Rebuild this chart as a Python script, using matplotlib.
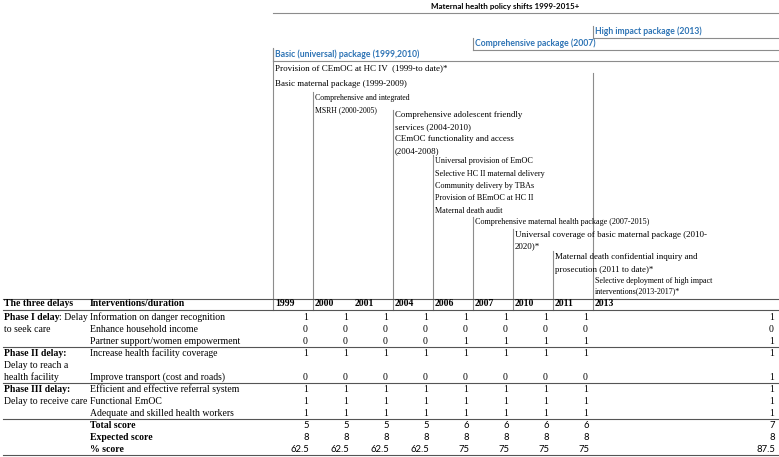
import matplotlib.pyplot as plt

# ---- data ----
years = ["1999", "2000", "2001", "2004", "2006", "2007", "2010", "2011", "2013"]

delay_labels = [
    [("Phase I delay", True), (": Delay", False)],
    [("to seek care", False)],
    [],
    [("Phase II delay:", True)],
    [("Delay to reach a", False)],
    [("health facility", False)],
    [("Phase III delay:", True)],
    [("Delay to receive care", False)],
    [],
]

interventions = [
    "Information on danger recognition",
    "Enhance household income",
    "Partner support/women empowerment",
    "Increase health facility coverage",
    "",
    "Improve transport (cost and roads)",
    "Efficient and effective referral system",
    "Functional EmOC",
    "Adequate and skilled health workers",
]

danger_recognition = [1, 1, 1, 1, 1, 1, 1, 1, 1]
household_income = [0, 0, 0, 0, 0, 0, 0, 0, 0]
partner_support = [0, 0, 0, 0, 1, 1, 1, 1, 1]
facility_coverage = [1, 1, 1, 1, 1, 1, 1, 1, 1]
transport = [0, 0, 0, 0, 0, 0, 0, 0, 1]
referral_system = [1, 1, 1, 1, 1, 1, 1, 1, 1]
functional_emoc = [1, 1, 1, 1, 1, 1, 1, 1, 1]
skilled_workers = [1, 1, 1, 1, 1, 1, 1, 1, 1]

score_rows = [danger_recognition, household_income, partner_support,
              facility_coverage, None, transport,
              referral_system, functional_emoc, skilled_workers]

total_score = [5, 5, 5, 5, 6, 6, 6, 6, 7]
expected_score = [8, 8, 8, 8, 8, 8, 8, 8, 8]
pct_score = ["62.5", "62.5", "62.5", "62.5", "75", "75", "75", "75", "87.5"]

title = "Maternal health policy shifts 1999-2015+"
packages = [("1999", "Basic (universal) package (1999,2010)"),
            ("2007", "Comprehensive package (2007)"),
            ("2013", "High impact package (2013)")]

policies = [
    ("1999", ["Provision of CEmOC at HC IV  (1999-to date)*",
              "Basic maternal package (1999-2009)"]),
    ("2000", ["Comprehensive and integrated", "MSRH (2000-2005)"]),
    ("2004", ["Comprehensive adolescent friendly", "services (2004-2010)",
              "CEmOC functionality and access", "(2004-2008)"]),
    ("2006", ["Universal provision of EmOC", "Selective HC II maternal delivery",
              "Community delivery by TBAs", "Provision of BEmOC at HC II",
              "Maternal death audit"]),
    ("2007", ["Comprehensive maternal health package (2007-2015)"]),
    ("2010", ["Universal coverage of basic maternal package (2010-", "2020)*"]),
    ("2011", ["Maternal death confidential inquiry and",
              "prosecution (2011 to date)*"]),
    ("2013", ["Selective deployment of high impact",
              "interventions(2013-2017)*"]),
]

# ---- layout ----
W, H = 779, 457
serif = "Liberation Serif"
sans = "Lato"
blue = "#2e74b5"
grey = "#8c8c8c"
dark = "#555555"

col_left = [273 + 40 * i for i in range(len(years))]
col_right = col_left[1:] + [779]
col_of = dict(zip(years, col_left))

fig = plt.figure(figsize=(W / 100, H / 100), dpi=100)
ax = fig.add_axes([0, 0, 1, 1])
ax.set_xlim(0, W)
ax.set_ylim(H, 0)
ax.axis("off")

# title and package headings
ax.text(505, 7, title, family=sans, weight="bold", fontsize=5.8, ha="center", va="center")
ax.plot([273, W], [13, 13], color=grey, lw=0.8)
pkg_y = {"1999": 54, "2007": 43, "2013": 31}
for yr, txt in packages:
    x0 = col_of[yr]
    y = pkg_y[yr]
    ax.text(x0 + 2, y, txt, family=sans, weight="bold", fontsize=6.2, color=blue,
            ha="left", va="center")
    ax.plot([x0, W], [y + 6.5, y + 6.5], color=grey, lw=0.8)
    ax.plot([x0, x0], [y - 5, y + 6.5], color=grey, lw=0.8)

# policy text blocks
policy_y = {"1999": (68, 16, 6.5), "2000": (98, 12, 5.6), "2004": (115, 12.2, 6.4),
            "2006": (161, 12.5, 5.9), "2007": (222, 12, 5.9), "2010": (235, 11.5, 6.5),
            "2011": (257, 12.5, 6.4), "2013": (281, 10.5, 5.8)}
line_top = {"1999": 48, "2000": 92, "2004": 110, "2006": 155, "2007": 217,
            "2010": 229, "2011": 251, "2013": 73}
for yr, lines in policies:
    y0, dy, fs = policy_y[yr]
    for k, txt in enumerate(lines):
        ax.text(col_of[yr] + 2, y0 + k * dy, txt, family=serif, fontsize=fs,
                ha="left", va="center")
for yr, top in line_top.items():
    ax.plot([col_of[yr], col_of[yr]], [top, 310], color=grey, lw=0.8)

# table header
hy = 304
ax.text(4, hy, "The three delays", family=serif, weight="bold", fontsize=7, va="center")
ax.text(90, hy, "Interventions/duration", family=serif, weight="bold", fontsize=7, va="center")
for x0, yr in zip(col_left, years):
    ax.text(x0 + 2, hy, yr, family=serif, weight="bold", fontsize=7, va="center")

for y in [298.5, 310, 347, 383, 419, 455]:
    ax.plot([3, W], [y, y], color=dark, lw=0.8)

# body rows
row_y = [317, 329, 341, 353, 365, 377, 389, 401, 413]
for y, parts, name, vals in zip(row_y, delay_labels, interventions, score_rows):
    x = 4
    for txt, bold in parts:
        t = ax.text(x, y, txt, family=serif, weight="bold" if bold else "normal",
                    fontsize=7, va="center")
        fig.canvas.draw()
        bb = t.get_window_extent()
        x += bb.width
    ax.text(90, y, name, family=serif, fontsize=7, va="center")
    if vals is not None:
        for xr, v in zip(col_right, vals):
            ax.text(xr - 5, y, str(v), family=serif, fontsize=7, ha="right", va="center")

summary = [("Total score", total_score), ("Expected score", expected_score),
           ("% score", pct_score)]
for y, (lab, vals) in zip([425, 437, 449], summary):
    ax.text(90, y, lab, family=serif, weight="bold", fontsize=7, va="center")
    for xr, v in zip(col_right, vals):
        ax.text(xr - 4, y, str(v), family=sans, fontsize=6.8, ha="right", va="center")

fig.savefig("out.png", dpi=100)
